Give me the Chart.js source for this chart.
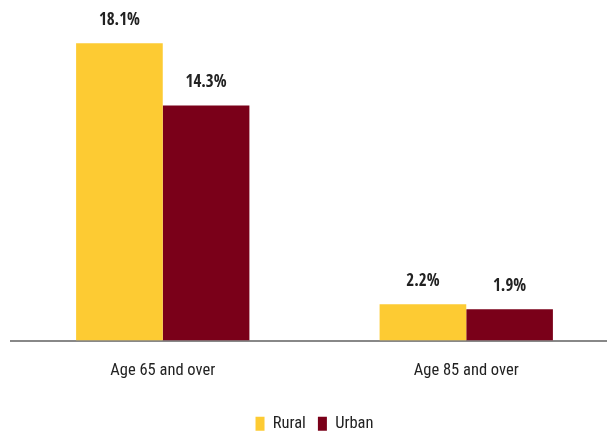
<!DOCTYPE html>
<html>
<head>
<meta charset="utf-8">
<script src="https://cdn.jsdelivr.net/npm/chart.js@4/dist/chart.umd.min.js"></script>
<style>
  html, body { margin: 0; padding: 0; background: #fff; overflow: hidden; }
  #wrap { width: 620px; height: 442px; }
</style>
</head>
<body>
<div id="wrap"><canvas id="myChart"></canvas></div>
<script>
const categories = ["Age 65 and over", "Age 85 and over"];
const rural = [18.1, 2.2];
const urban = [14.3, 1.9];

const FONT = "'Roboto Condensed', 'Open Sans', sans-serif";
const BOLD_FONT = "'Open Sans Condensed', 'Roboto Condensed', sans-serif";

// value labels above bars
const barLabels = {
    id: "barLabels",
    afterDatasetsDraw(chart) {
        const ctx = chart.ctx;
        ctx.save();
        ctx.font = "bold 17px " + BOLD_FONT;
        ctx.fillStyle = "#222";
        ctx.textAlign = "center";
        ctx.textBaseline = "middle";
        chart.data.datasets.forEach((ds, i) => {
            chart.getDatasetMeta(i).data.forEach((bar, j) => {
                ctx.fillText(ds.data[j].toFixed(1) + "%", bar.x, bar.y - 23);
            });
        });
        ctx.restore();
    },
};

new Chart(document.getElementById("myChart"), {
    type: "bar",
    data: {
        labels: categories,
        datasets: [
            { label: "Rural", data: rural, backgroundColor: "#FDCB33" },
            { label: "Urban", data: urban, backgroundColor: "#7A0019" },
        ],
    },
    options: {
        responsive: true,
        maintainAspectRatio: false,
        animation: false,
        layout: { padding: { left: 11, right: 2, top: 12, bottom: 0 } },
        datasets: { bar: { barPercentage: 1, categoryPercentage: 0.571 } },
        scales: {
            x: {
                grid: { display: false },
                border: { color: "#888", width: 2 },
                ticks: { color: "#222", font: { family: FONT, size: 16.5 }, padding: 12 },
            },
            y: {
                display: false,
                min: 0,
                max: 20,
            },
        },
        plugins: {
            legend: {
                position: "bottom",
                // empty title only adds space above the items
                title: { display: true, text: "", font: { size: 1 }, padding: { top: 0, bottom: 10 } },
                labels: {
                    color: "#222",
                    font: { family: FONT, size: 16.5 },
                    boxWidth: 9,
                    boxHeight: 14,
                    padding: 12,
                },
            },
            tooltip: { enabled: false },
        },
    },
    plugins: [barLabels],
});
</script>
</body>
</html>
